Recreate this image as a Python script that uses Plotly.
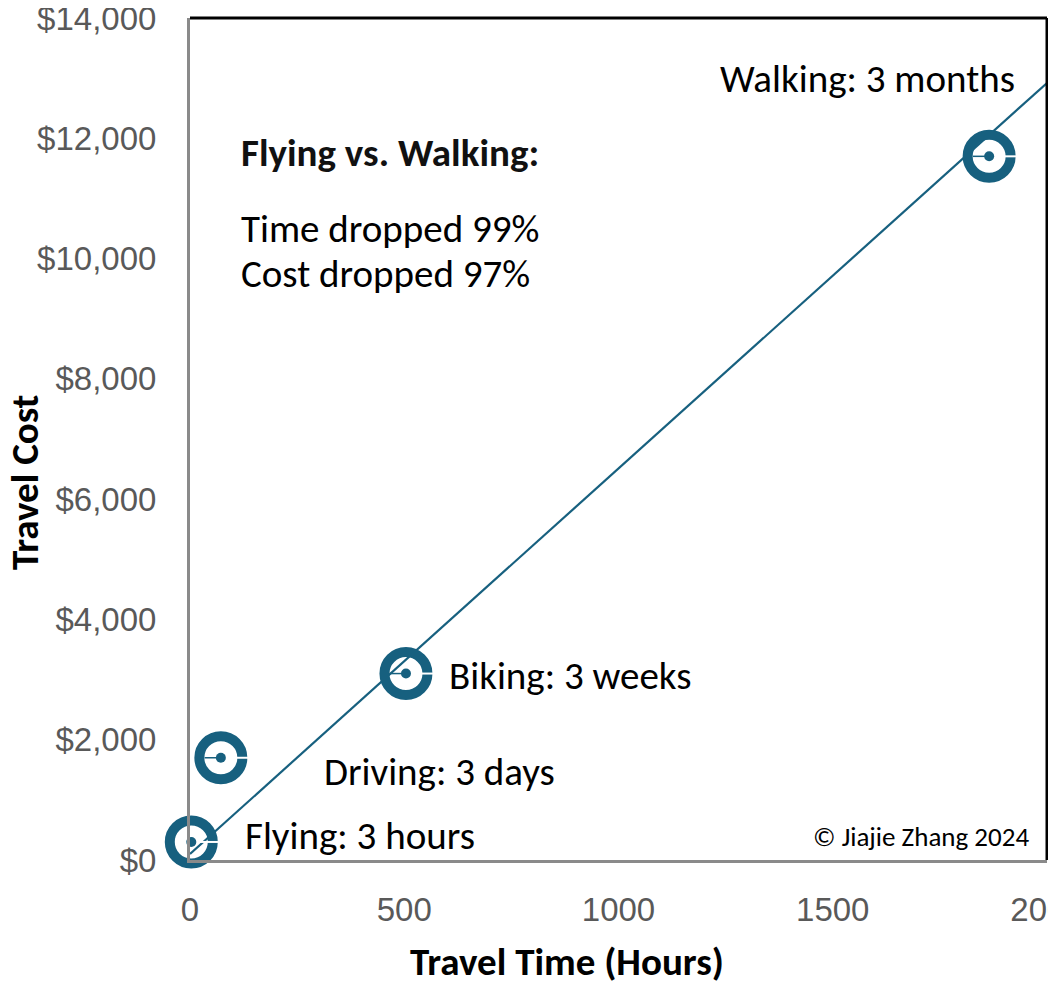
import plotly.graph_objects as go

# ---- data ----
modes = ["Flying", "Driving", "Biking", "Walking"]
durations = ["3 hours", "3 days", "3 weeks", "3 months"]
travel_hours = [3, 72, 504, 1865]
travel_cost = [300, 1700, 3100, 11700]
trend_slope = 6.41
trend_intercept = 100
x_ticks = [0, 500, 1000, 1500, 2000]
y_ticks = [0, 2000, 4000, 6000, 8000, 10000, 12000, 14000]
y_tick_labels = [f"${v:,}" for v in y_ticks]

X_MAX = 2000
Y_MAX = 14000
BLUE = "#17607F"

# page geometry: body has an 8px margin, figure is offset by it
OFF = 8
W, H = 1056 - OFF, 984 - OFF
# plot area in page pixels
L, R, T, B = 190, 1047, 18, 860
def px_x(px):
    return (px - L) / (R - L) * X_MAX
def px_y(py):
    return (B - py) / (B - T) * Y_MAX
def paper_x(px):
    return (px - L) / (R - L)
def paper_y(py):
    return (B - py) / (B - T)

fig = go.Figure()

# trendline
trend_x = [0, X_MAX]
trend_y = [trend_intercept + trend_slope * v for v in trend_x]
fig.add_trace(go.Scatter(x=trend_x, y=trend_y, mode="lines",
                         line=dict(color=BLUE, width=2.2), hoverinfo="skip",
                         showlegend=False))

# ring markers
fig.add_trace(go.Scatter(x=travel_hours, y=travel_cost, mode="markers",
                         marker=dict(symbol="circle-open", size=43, color=BLUE,
                                     line=dict(color=BLUE, width=10)),
                         cliponaxis=False, showlegend=False))
# white notch to the right
fig.add_trace(go.Scatter(x=travel_hours, y=travel_cost, mode="markers",
                         marker=dict(size=1, color="rgba(0,0,0,0)"),
                         error_x=dict(type="data", symmetric=False,
                                      array=[64] * 4, arrayminus=[0] * 4,
                                      color="white", thickness=2, width=0),
                         cliponaxis=False, showlegend=False))
# center dot with thin line to the left
fig.add_trace(go.Scatter(x=travel_hours, y=travel_cost, mode="markers",
                         marker=dict(size=10, color=BLUE),
                         error_x=dict(type="data", symmetric=False,
                                      array=[0] * 4, arrayminus=[38] * 4,
                                      color=BLUE, thickness=1.5, width=0),
                         cliponaxis=False, showlegend=False))

# frame top / right (black)
fig.add_shape(type="line", xref="x domain", yref="y domain", x0=0, x1=1, y0=1, y1=1,
              line=dict(color="black", width=3))
fig.add_shape(type="line", xref="x domain", yref="y domain", x0=1, x1=1, y0=0, y1=1,
              line=dict(color="black", width=3))

TXT = "Carlito, Calibri, Lato, sans-serif"
label_pos = [(243, 835), (322, 771), (447, 675), (718, 78)]
for m, d, (lx, ly) in zip(modes, durations, label_pos):
    fig.add_annotation(x=px_x(lx), y=px_y(ly), text=f"{m}: {d}", showarrow=False,
                       xanchor="left", yanchor="middle",
                       font=dict(family=TXT, size=39, color="black"))

fig.add_annotation(x=px_x(239), y=px_y(152), text="<b>Flying vs. Walking:</b>",
                   showarrow=False, xanchor="left", yanchor="middle",
                   font=dict(family=TXT, size=39, color="#111111"))
fig.add_annotation(x=px_x(239), y=px_y(228), text="Time dropped 99%",
                   showarrow=False, xanchor="left", yanchor="middle",
                   font=dict(family=TXT, size=39, color="black"))
fig.add_annotation(x=px_x(239), y=px_y(273), text="Cost dropped 97%",
                   showarrow=False, xanchor="left", yanchor="middle",
                   font=dict(family=TXT, size=39, color="black"))
fig.add_annotation(x=px_x(1031), y=px_y(836), text="© Jiajie Zhang 2024",
                   showarrow=False, xanchor="right", yanchor="middle",
                   font=dict(family=TXT, size=27, color="black"))

# axis titles (placed off-center, as in the reference)
fig.add_annotation(xref="paper", yref="paper", x=paper_x(567), y=paper_y(961),
                   text="<b>Travel Time (Hours)</b>", showarrow=False,
                   xanchor="center", yanchor="middle",
                   font=dict(family=TXT, size=39, color="black"))
fig.add_annotation(xref="paper", yref="paper", x=paper_x(25), y=paper_y(483),
                   text="<b>Travel Cost</b>", showarrow=False, textangle=-90,
                   xanchor="center", yanchor="middle",
                   font=dict(family=TXT, size=39, color="black"))

fig.update_layout(
    width=W, height=H,
    margin=dict(l=L - OFF, r=1056 - R, t=T - OFF, b=984 - B),
    paper_bgcolor="white", plot_bgcolor="white",
    showlegend=False,
    xaxis=dict(range=[0, X_MAX], tickvals=x_ticks, tickformat="d",
               automargin=False, ticklabeloverflow="allow",
               showgrid=False, zeroline=False, showline=True,
               linecolor="#8a8a8a", linewidth=3, ticks="",
               ticklabelstandoff=18,
               tickfont=dict(family="Liberation Sans, Arial", size=33, color="#595959")),
    yaxis=dict(range=[0, Y_MAX], tickvals=y_ticks, ticktext=y_tick_labels,
               automargin=False, ticklabeloverflow="allow",
               showgrid=False, zeroline=False, showline=True,
               linecolor="#8a8a8a", linewidth=3, ticks="",
               ticklabelstandoff=24,
               tickfont=dict(family="Liberation Sans, Arial", size=33, color="#595959")),
)

fig.write_html("out.html")
